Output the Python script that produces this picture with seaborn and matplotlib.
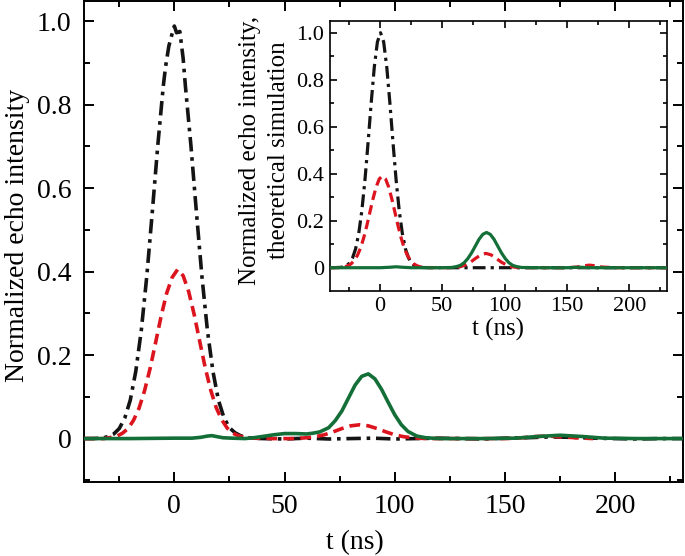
import matplotlib
matplotlib.use("Agg")
import matplotlib.pyplot as plt
from matplotlib.ticker import MultipleLocator
import pandas as pd
import seaborn as sns

# ---- main panel: measured echo intensity ----
meas_black_t = [-41, -37, -34, -32, -30, -27.5, -25, -22.5, -20, -17.5, -15, -12.5, -10, -7.5, -5, -4,
                -2.5, -1, 0, 1, 2.5, 4, 5, 7.5, 10, 12.5, 15, 17.5, 20, 22.5, 25, 27.5, 30, 32.5, 35,
                40, 50, 60, 70, 80, 90, 100, 110, 120, 130, 140, 150, 160, 170, 180, 190, 200, 210, 220, 231]
meas_black_y = [0.0, 0.0, 0.001, 0.002, 0.005, 0.011, 0.024, 0.049, 0.092, 0.161, 0.259, 0.389, 0.543, 0.703,
                0.845, 0.89, 0.94, 0.97, 0.988, 0.972, 0.975, 0.91, 0.845, 0.703, 0.543, 0.389, 0.259,
                0.161, 0.092, 0.05, 0.026, 0.014, 0.007, 0.003, 0.001,
                0.0, -0.001, 0.001, -0.001, 0.0, 0.001, -0.001, 0.0, 0.001, 0.0, -0.001, 0.001, 0.002,
                0.004, 0.003, 0.001, 0.0, -0.001, 0.0, 0.0]

meas_red_t = [-41, -32, -28.5, -26, -23.5, -21, -18.5, -16, -13.5, -11, -8.5, -6, -3.5, -1, 1.5, 4, 6.5,
              9, 11.5, 14, 16.5, 19, 21.5, 24, 26.5, 29, 31.5, 35, 45, 55,
              60, 64, 68, 72, 76, 80, 84, 88, 92, 96, 100, 104, 108, 114,
              130, 150, 158, 164, 170, 176, 182, 190]
meas_red_y = [0.0, 0.0, 0.003, 0.006, 0.013, 0.024, 0.044, 0.073, 0.115, 0.168, 0.230, 0.293, 0.348, 0.386,
              0.405, 0.39, 0.352, 0.297, 0.233, 0.170, 0.116, 0.074, 0.045, 0.025, 0.013, 0.007, 0.003,
              0.001, 0.0, 0.0,
              0.002, 0.0045, 0.009, 0.016, 0.024, 0.0305, 0.033, 0.0305, 0.024, 0.016, 0.009, 0.0045,
              0.002, 0.0,
              0.0, 0.0, 0.002, 0.005, 0.006, 0.004, 0.002, 0.0]

meas_green_t = [-41, -20, 0, 8, 12, 15, 17, 19, 22, 26, 32, 36, 40, 45, 50, 55, 60, 63, 66, 70, 73, 76,
                79, 82, 85, 88, 91, 94, 97, 100, 103, 106, 110, 114, 120, 140, 155, 165, 175, 185, 195,
                210, 231]
meas_green_y = [0.0, 0.0, 0.001, 0.001, 0.003, 0.006, 0.007, 0.005, 0.002, 0.001, 0.0, 0.002, 0.005,
                0.009, 0.012, 0.012, 0.011, 0.013, 0.016, 0.026, 0.043, 0.066, 0.097, 0.128, 0.149,
                0.155, 0.143, 0.118, 0.087, 0.057, 0.033, 0.017, 0.006, 0.002, 0.0, 0.0, 0.001, 0.005,
                0.008, 0.005, 0.001, 0.0, 0.0]

# ---- inset: theoretical simulation ----
sim_black_t = [-40, -32.5, -29.5, -27, -24.5, -22, -19.5, -17, -14.5, -12, -9.5, -7, -4.5, -2, 0.5, 3,
               5.5, 8, 10.5, 13, 15.5, 18, 20.5, 23, 25.5, 28, 30.5, 33.5, 40, 230]
sim_black_y = [0.0, 0.001, 0.003, 0.008, 0.019, 0.041, 0.080, 0.145, 0.242, 0.373, 0.532, 0.701, 0.854,
               0.961, 1.0, 0.961, 0.854, 0.701, 0.532, 0.373, 0.242, 0.145, 0.080, 0.041, 0.019, 0.008,
               0.003, 0.001, 0.0, 0.0]

sim_red_t = [-40, -32, -28, -25.5, -23, -20.5, -18, -15.5, -13, -10.5, -8, -5.5, -3, -0.5, 2, 4.5, 7,
             9.5, 12, 14.5, 17, 19.5, 22, 24.5, 27, 29.5, 32, 36, 50,
             60, 65, 69, 73, 77, 81, 85, 89, 93, 97, 101, 105, 110, 130, 150, 158, 163, 168, 173, 178,
             190, 230]
sim_red_y = [0.0, 0.001, 0.004, 0.009, 0.017, 0.031, 0.053, 0.084, 0.127, 0.179, 0.237, 0.294, 0.344,
             0.378, 0.39, 0.378, 0.344, 0.294, 0.237, 0.179, 0.127, 0.084, 0.053, 0.031, 0.017, 0.009,
             0.004, 0.001, 0.0,
             0.001, 0.005, 0.013, 0.025, 0.041, 0.055, 0.061, 0.055, 0.041, 0.025, 0.013, 0.005, 0.001,
             0.0, 0.0, 0.003, 0.008, 0.011, 0.008, 0.003, 0.0, 0.0]

sim_green_t = [-40, 0, 8, 13, 18, 25, 50, 57.5, 61.5, 64.5, 67.5, 70.5, 73.5, 76.5, 79.5, 82.5, 85.5,
               88.5, 91.5, 94.5, 97.5, 100.5, 103.5, 106.5, 109.5, 113.5, 130, 150, 160, 170, 230]
sim_green_y = [0.0, 0.0, 0.002, 0.004, 0.002, 0.0, 0.0, 0.001, 0.005, 0.010, 0.021, 0.039, 0.063, 0.092,
               0.121, 0.142, 0.150, 0.142, 0.121, 0.092, 0.063, 0.039, 0.021, 0.010, 0.005, 0.001, 0.0,
               0.0, 0.002, 0.0, 0.0]

x_ticks = [0, 50, 100, 150, 200]
y_ticks = [0, 0.2, 0.4, 0.6, 0.8, 1.0]
y_tick_labels = ["0", "0.2", "0.4", "0.6", "0.8", "1.0"]

BLACK = "#141414"
RED = "#dc141e"
GREEN = "#146e37"
DASHDOT = (0, (4, 1.6, 1, 1.6))
DASHED = (0, (3, 1.7))

sns.set_theme(style="ticks", rc={"axes.edgecolor": "black", "xtick.color": "black",
                                 "ytick.color": "black", "text.color": "black",
                                 "axes.labelcolor": "black"})
plt.rcParams["font.family"] = ["Liberation Serif", "DejaVu Serif"]


def draw(axis, t, y, color, ls, lw, z):
    df = pd.DataFrame({"t": t, "y": y})
    sns.lineplot(data=df, x="t", y="y", ax=axis, color=color, linewidth=lw,
                 sort=False, estimator=None, legend=False, zorder=z)
    axis.lines[-1].set_linestyle(ls)


def style(axis, size, major, minor, width, pad):
    axis.tick_params(which="both", direction="in", top=True, right=True,
                     width=width, labelsize=size, pad=pad)
    axis.tick_params(which="major", length=major)
    axis.tick_params(which="minor", length=minor)
    for s in axis.spines.values():
        s.set_linewidth(width)
        s.set_color("black")
    axis.set_xticks(x_ticks)
    axis.set_yticks(y_ticks)
    axis.set_yticklabels(y_tick_labels)
    axis.xaxis.set_minor_locator(MultipleLocator(25))
    axis.yaxis.set_minor_locator(MultipleLocator(0.1))


fig = plt.figure(figsize=(6.85, 5.56), dpi=100)
ax = fig.add_axes([0.1226, 0.1331, 0.8752, 0.8651])
ins = fig.add_axes([0.4818, 0.4775, 0.4915, 0.4856])

draw(ax, meas_black_t, meas_black_y, BLACK, DASHDOT, 2.6, 2)
draw(ax, meas_red_t, meas_red_y, RED, DASHED, 2.6, 3)
draw(ax, meas_green_t, meas_green_y, GREEN, "-", 2.6, 4)

draw(ins, sim_black_t, sim_black_y, BLACK, DASHDOT, 2.3, 2)
draw(ins, sim_red_t, sim_red_y, RED, DASHED, 2.3, 3)
draw(ins, sim_green_t, sim_green_y, GREEN, "-", 2.3, 4)

style(ax, 20, 7, 4, 1.4, 9)
ax.set_xlim(-41, 231)
ax.set_ylim(-0.104, 1.048)
ax.set_xlabel("t (ns)", fontsize=20)
ax.set_ylabel("Normalized echo intensity", fontsize=20)
ax.xaxis.set_label_coords(0.452, -0.10)
ax.xaxis.label.set_va("top")
ax.yaxis.set_label_coords(-0.09, 0.513)

style(ins, 16, 5, 3, 1.2, 4)
ins.tick_params(axis="x", pad=5)
ins.set_xlim(-40, 230)
ins.set_ylim(-0.097, 1.052)
ins.set_xlabel("t (ns)", fontsize=18)
ins.set_ylabel("Normalized echo intensity,\ntheoretical simulation", fontsize=18, linespacing=1.45)
ins.xaxis.set_label_coords(0.5, -0.10)
ins.xaxis.label.set_va("top")
ins.yaxis.set_label_coords(-0.118, 0.52)
ins.set_facecolor("white")

fig.savefig("out.png", dpi=100)
